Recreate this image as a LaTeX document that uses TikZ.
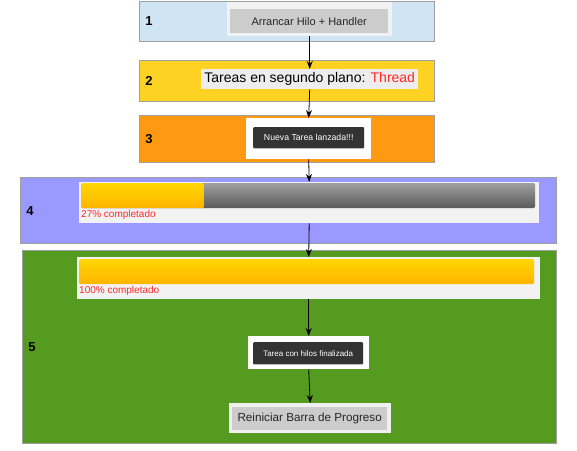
\documentclass[tikz,border=0pt]{standalone}
\usepackage{fontspec}
\setmainfont{Liberation Sans}
\usetikzlibrary{arrows.meta,shadows}

\definecolor{skyblue}{HTML}{CFE5F3}
\definecolor{sunyellow}{HTML}{FDD222}
\definecolor{deeporange}{HTML}{FF9912}
\definecolor{lavender}{HTML}{9999FF}
\definecolor{grassgreen}{HTML}{559B1F}
\definecolor{barlight}{HTML}{F2F2F2}
\definecolor{btngray}{HTML}{CCCCCC}
\definecolor{toastgray}{HTML}{333333}
\definecolor{alertred}{HTML}{FF2A2A}

\begin{document}
\begin{tikzpicture}[
  x=1pt,y=-1pt,
  >={Stealth[length=8pt,width=6pt]},
  panel/.style={draw=gray!75,line width=0.8pt,anchor=north west,inner sep=0pt},
  num/.style={font=\fontsize{13}{15}\selectfont\bfseries},
  frame/.style={fill=barlight,anchor=north west,inner sep=0pt},
  button/.style={fill=btngray,anchor=north west,inner sep=0pt,
    font=\fontsize{11}{13}\selectfont,text=black!85},
  whitebox/.style={fill=white,anchor=north west,inner sep=0pt},
  toast/.style={fill=toastgray,anchor=north west,inner sep=0pt,rounded corners=1pt,
    text=white,drop shadow={shadow xshift=0pt,shadow yshift=-1pt,opacity=.35}},
  track/.style={anchor=north west,inner sep=0pt,rounded corners=1.5pt,
    top color=gray!75,bottom color=gray!70!black},
  fillbar/.style={anchor=north west,inner sep=0pt,rounded corners=1.5pt,
    top color={rgb,255:red,255;green,214;blue,0},bottom color={rgb,255:red,255;green,180;blue,0}},
  percent/.style={anchor=west,inner sep=0pt,text=alertred,font=\fontsize{10}{12}\selectfont},
  flow/.style={->,line width=0.8pt}
]
  \fill[white] (0,0) rectangle (577,450);
  \useasboundingbox (0,0) rectangle (577,450);

  % 1
  \node[panel,fill=skyblue,minimum width=295pt,minimum height=40pt] (p1) at (139,1) {};
  \node[num] (n1) at (149,21) {1};
  \node[frame,minimum width=165pt,minimum height=34pt] (f1) at (227,2) {};
  \node[button,minimum width=158pt,minimum height=24pt] (start) at (230,9) {Arrancar Hilo + Handler};

  % 2
  \node[panel,fill=sunyellow,minimum width=295pt,minimum height=41pt] (p2) at (139,60) {};
  \node[num] (n2) at (149,81) {2};
  \node[frame,fill=black!7,minimum width=217pt,minimum height=20pt,
    font=\fontsize{14}{16}\selectfont] (tasks) at (201,69)
    {Tareas en segundo plano: \textcolor{alertred}{Thread}};

  % 3
  \node[panel,fill=deeporange,minimum width=295pt,minimum height=47pt] (p3) at (139,115) {};
  \node[num] (n3) at (149,139) {3};
  \node[whitebox,minimum width=125pt,minimum height=41pt] (f3) at (246,118) {};
  \node[toast,minimum width=111pt,minimum height=21pt,font=\fontsize{8.7}{10}\selectfont]
    (launched) at (253,127) {Nueva Tarea lanzada!!!};

  % 4
  \node[panel,fill=lavender,minimum width=536pt,minimum height=66pt] (p4) at (20,177) {};
  \node[num] (n4) at (30,211) {4};
  \node[frame,minimum width=460pt,minimum height=41pt] (f4) at (79,182) {};
  \node[track,minimum width=454pt,minimum height=25pt] (track4) at (81,183) {};
  \node[fillbar,minimum width=123pt,minimum height=25pt] (bar4) at (81,183) {};
  \node[percent] (pc4) at (81,215) {27\% completado};

  % 5
  \node[panel,fill=grassgreen,minimum width=534pt,minimum height=193pt] (p5) at (22,250) {};
  \node[num] (n5) at (32,347) {5};
  \node[frame,minimum width=463pt,minimum height=42pt] (f5) at (77,257) {};
  \node[fillbar,minimum width=455pt,minimum height=25pt] (bar5) at (79,259) {};
  \node[percent] (pc5) at (79,291) {100\% completado};
  \node[whitebox,minimum width=121pt,minimum height=33pt] (f6) at (248,336) {};
  \node[toast,minimum width=110pt,minimum height=22pt,font=\fontsize{8}{10}\selectfont]
    (done) at (253,342) {Tarea con hilos finalizada};
  \node[frame,fill=black!6,minimum width=162pt,minimum height=30pt] (f7) at (229,403) {};
  \node[button,minimum width=155pt,minimum height=23pt,font=\fontsize{11.7}{13}\selectfont]
    (reset) at (232,407) {Reiniciar Barra de Progreso};

  \draw[flow] (f1.south) -- (tasks.north);
  \draw[flow] (tasks.south) -- (f3.north);
  \draw[flow] (f3.south) -- (f4.north);
  \draw[flow] (f4.south) -- (f5.north);
  \draw[flow] (f5.south) -- (f6.north);
  \draw[flow] (f6.south) -- (f7.north);
\end{tikzpicture}
\end{document}
